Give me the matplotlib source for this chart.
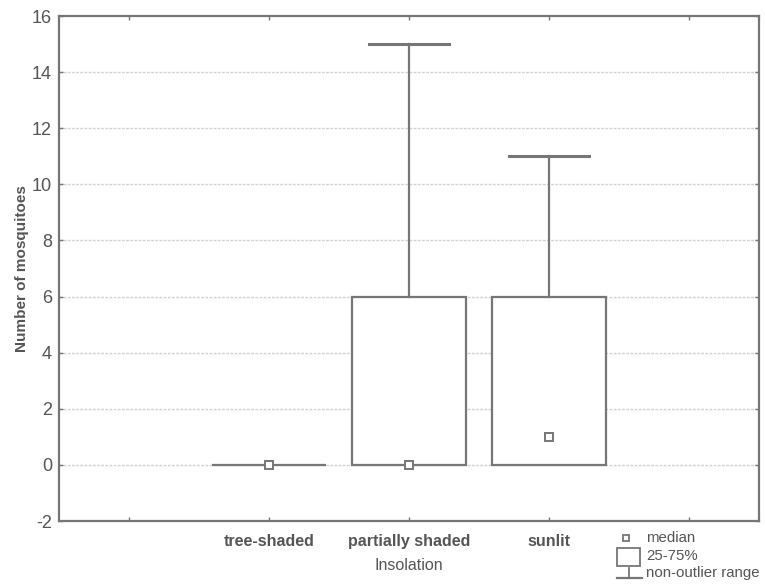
import matplotlib.pyplot as plt
from matplotlib.patches import Rectangle
from matplotlib.lines import Line2D

categories = ['tree-shaded', 'partially shaded', 'sunlit']
medians = [0, 0, 1]
q1 = [0, 0, 0]
q3 = [0, 6, 6]
whis_lo = [0, 0, 0]
whis_hi = [0, 15, 11]
yticks = [-2, 0, 2, 4, 6, 8, 10, 12, 14, 16]

line_c = '#767676'
text_c = '#555555'
plt.rcParams['font.family'] = ['Liberation Sans', 'DejaVu Sans']

fig = plt.figure(figsize=(7.65, 5.85), dpi=100)
ax = fig.add_axes([0.0771, 0.1094, 0.9149, 0.8632])

positions = [1, 2, 3]
stats = []
for i, name in enumerate(categories):
    stats.append({'label': name, 'med': medians[i], 'q1': q1[i], 'q3': q3[i],
                  'whislo': whis_lo[i], 'whishi': whis_hi[i], 'fliers': []})

bp = ax.bxp(stats, positions=positions, widths=0.81, capwidths=0.57,
            showfliers=False, patch_artist=True,
            boxprops=dict(facecolor='white', edgecolor=line_c, linewidth=1.6),
            whiskerprops=dict(color=line_c, linewidth=1.6),
            capprops=dict(color=line_c, linewidth=2.2),
            medianprops=dict(linewidth=0), zorder=3)
# caps that coincide with the box edge are not drawn
for i in range(len(categories)):
    if whis_lo[i] == q1[i]:
        bp['caps'][2 * i].set_visible(False)
    if whis_hi[i] == q3[i]:
        bp['caps'][2 * i + 1].set_visible(False)
ax.plot(positions, medians, linestyle='none', marker='s', markersize=6,
        markerfacecolor='white', markeredgecolor=line_c, markeredgewidth=1.4,
        zorder=5)

ax.set_xlim(-0.5, 4.5)
ax.set_ylim(-2, 16)
ax.set_xticks([0, 1, 2, 3, 4])
ax.set_xticklabels([''] + categories + [''], fontweight='bold', fontsize=11.5,
                   color=text_c)
ax.set_yticks(yticks)
ax.set_yticklabels([str(v) for v in yticks], fontsize=13, color=text_c)
for v in yticks[1:-1]:
    ax.axhline(v, color='#d2d2d2', linewidth=1, linestyle=(0, (2, 1)), zorder=1)

ax.tick_params(direction='in', length=3, width=1, colors=line_c,
               top=True, right=True, pad=5)
ax.tick_params(axis='x', pad=9)
for t in ax.get_xticklabels() + ax.get_yticklabels():
    t.set_color(text_c)
for s in ax.spines.values():
    s.set_color(line_c)
    s.set_linewidth(1.6)

ax.set_xlabel('Insolation', fontsize=11.5, color=text_c, labelpad=7)
ax.set_ylabel('Number of mosquitoes', fontsize=11, fontweight='bold',
              color=text_c, labelpad=2)

# legend below the plot, bottom right
W, H = 765, 585
def fx(px):
    return px / W
def fy(py):
    return 1 - py / H

fig.add_artist(Line2D([fx(626)], [fy(538)], marker='s', markersize=5,
                      markerfacecolor='white', markeredgecolor=line_c,
                      markeredgewidth=1.3, linestyle='none'))
fig.add_artist(Rectangle((fx(617), fy(566)), fx(640) - fx(617), fy(548) - fy(566),
                         facecolor='white', edgecolor=line_c, linewidth=1.3,
                         transform=fig.transFigure))
fig.add_artist(Line2D([fx(629), fx(629)], [fy(568), fy(578)], color=line_c, lw=1.3))
fig.add_artist(Line2D([fx(617), fx(642)], [fy(578), fy(578)], color=line_c, lw=1.6))
fig.text(fx(646), fy(538), 'median', fontsize=10.8, color=text_c, va='center')
fig.text(fx(646), fy(556), '25-75%', fontsize=10.8, color=text_c, va='center')
fig.text(fx(646), fy(573), 'non-outlier range', fontsize=10.8, color=text_c, va='center')

fig.savefig('out.png', dpi=100)
